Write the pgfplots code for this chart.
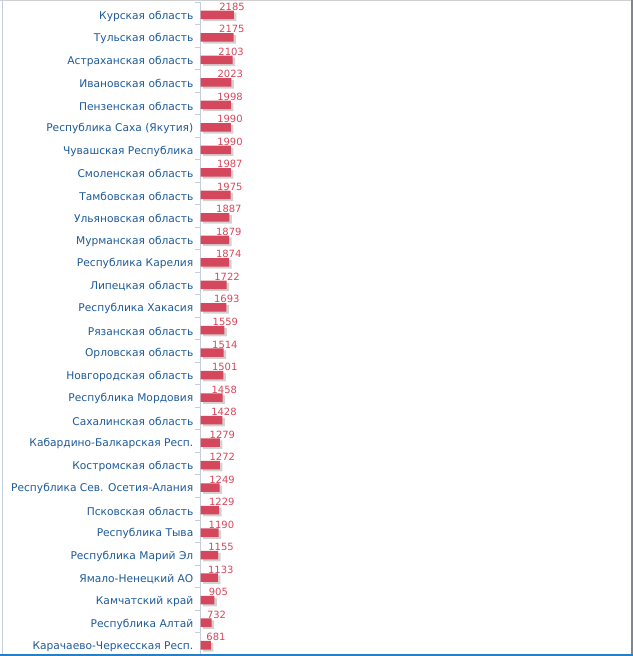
\documentclass[border=0pt]{standalone}
\usepackage{pgfplots}
\pgfplotsset{compat=1.18}
\usetikzlibrary{shadows}
\usepackage{fontspec}
\setmainfont{DejaVu Sans}
\definecolor{barred}{HTML}{D4475C}
\definecolor{valred}{HTML}{D9465A}
\definecolor{labblue}{HTML}{1D5A98}
\definecolor{axgray}{HTML}{C4CEDD}
\begin{document}
\begin{tikzpicture}
\useasboundingbox (0,0) rectangle (633bp,656bp);
\begin{axis}[
  at={(200.5bp,1bp)}, anchor=south west,
  scale only axis, width=431bp, height=653bp,
  xmin=0, xmax=28280,
  ymin=-0.5, ymax=28.5, y dir=reverse,
  axis x line=none, axis y line=left,
  y axis line style={-, draw=axgray, line width=0.8bp},
  ytick={0,...,28},
  minor ytick={-0.5,0.5,...,28.5},
  major tick length=0pt, minor tick length=5bp,
  tick align=outside,
  minor tick style={draw=axgray, line width=0.8bp},
  yticklabels={{Курская область},{Тульская область},{Астраханская область},{Ивановская область},{Пензенская область},{Республика Саха (Якутия)},{Чувашская Республика},{Смоленская область},{Тамбовская область},{Ульяновская область},{Мурманская область},{Республика Карелия},{Липецкая область},{Республика Хакасия},{Рязанская область},{Орловская область},{Новгородская область},{Республика Мордовия},{Сахалинская область},{Кабардино-Балкарская Респ.},{Костромская область},{Республика Сев. Осетия-Алания},{Псковская область},{Республика Тыва},{Республика Марий Эл},{Ямало-Ненецкий АО},{Камчатский край},{Республика Алтай},{Карачаево-Черкесская Респ.}},
  yticklabel style={font=\fontsize{10.7}{12}\selectfont, text=labblue, inner sep=0pt, xshift=-7bp, yshift=-2.8bp},
  /pgf/number format/assume math mode=true,
  /pgf/number format/1000 sep={},
  xbar, bar width=8.5bp, bar shift=-1.5bp,
  point meta=x,
  visualization depends on={x \as \rawx},
  nodes near coords,
  nodes near coords style={font=\fontsize{10}{12}\selectfont, text=valred, anchor=base, xshift={(8.25-0.0046*\rawx)*1bp}, yshift=4.5bp, inner sep=0pt},
]
\addplot[fill=barred, draw=none, drop shadow={shadow xshift=2.5bp, shadow yshift=-2bp, opacity=1, fill=black!18}] coordinates {
(2185,0) (2175,1) (2103,2) (2023,3) (1998,4) (1990,5) (1990,6) (1987,7) (1975,8) (1887,9)
(1879,10) (1874,11) (1722,12) (1693,13) (1559,14) (1514,15) (1501,16) (1458,17) (1428,18) (1279,19)
(1272,20) (1249,21) (1229,22) (1190,23) (1155,24) (1133,25) (905,26) (732,27) (681,28)
};
\end{axis}
\draw[draw=black!18, line width=1bp] (0,655.5bp) -- (633bp,655.5bp);
\draw[draw=axgray, line width=1bp] (2.5bp,0) -- (2.5bp,656bp);
\draw[draw=black!35!axgray, line width=1.5bp] (631.75bp,0) -- (631.75bp,656bp);
\draw[draw={rgb,255:red,38;green,128;blue,200}, line width=2bp] (0,1bp) -- (633bp,1bp);
\end{tikzpicture}
\end{document}
